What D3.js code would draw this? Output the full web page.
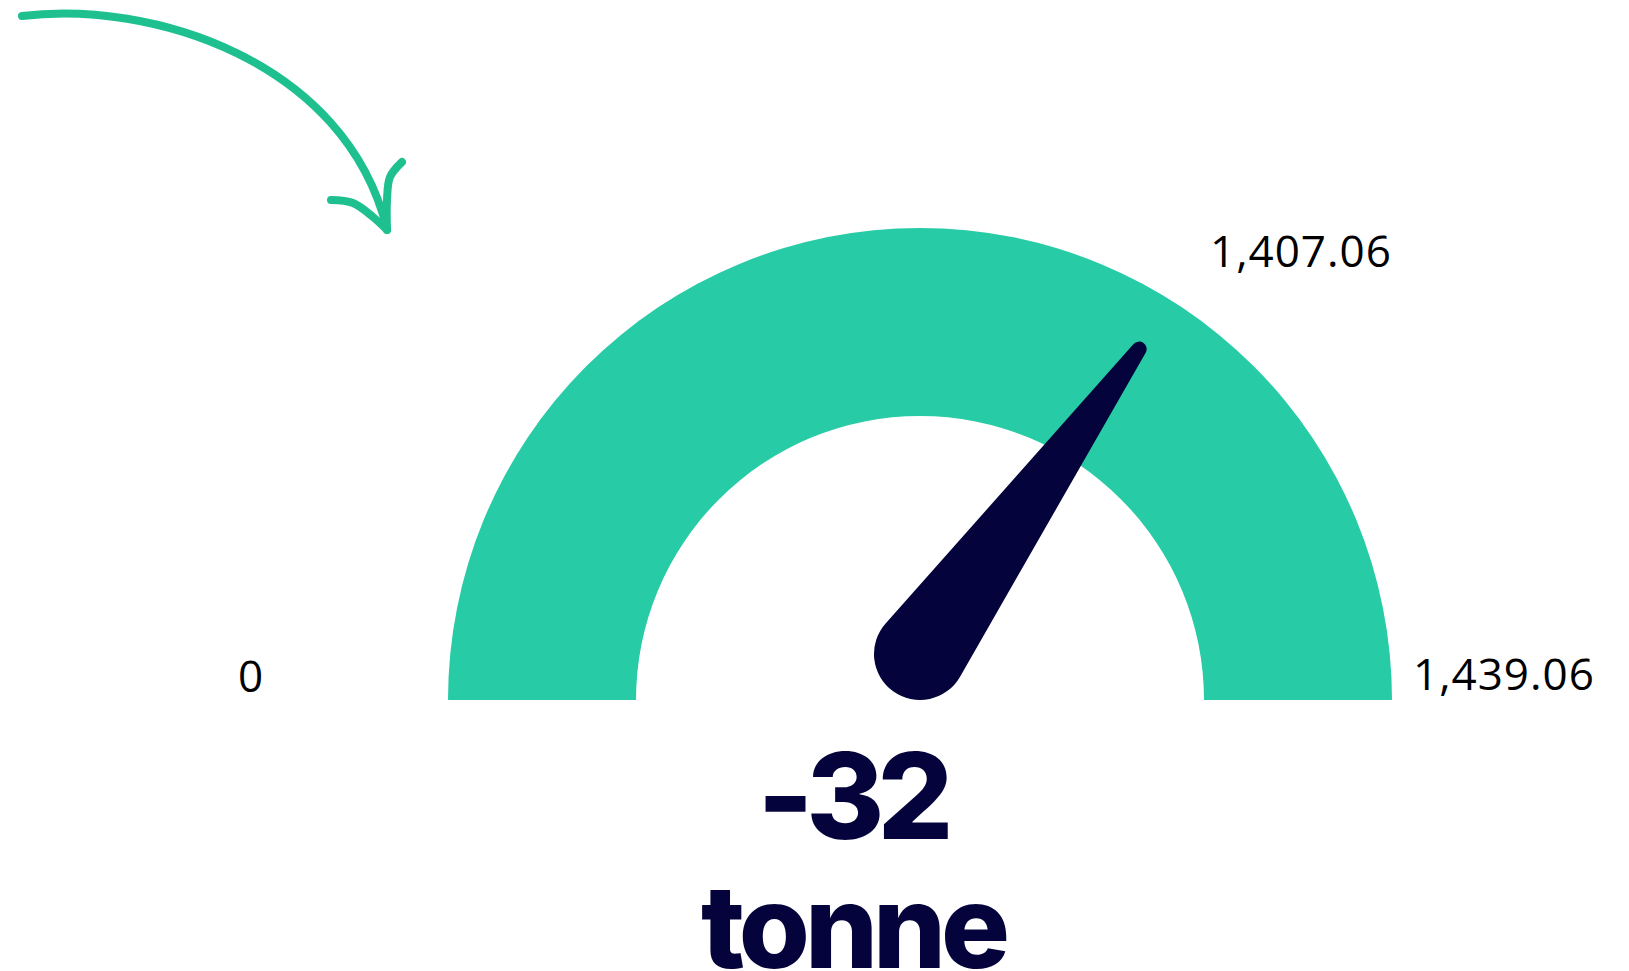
<!DOCTYPE html>
<html><head><meta charset="utf-8">
<script src="https://cdn.jsdelivr.net/npm/d3@7"></script>
<style>html,body{margin:0;padding:0;background:#fff;overflow:hidden}</style>
</head><body>
<svg id="c" width="1629" height="971"></svg>
<script>
// ---- data ----
const gaugeMin = 0;
const gaugeMax = 1439.06;
const targetValue = 1407.06;
const deltaValue = -32;
const unitLabel = "tonne";
const needleValue = 1005; // needle position
const tickLabels = ["0", "1,407.06", "1,439.06"];

// ---- layout ----
const svg = d3.select("#c");
const cx = 920, cy = 700, rOuter = 472, rInner = 284;
const teal = "#27cba6", navy = "#05033b", arrowCol = "#1fc08f";

const angle = d3.scaleLinear().domain([gaugeMin, gaugeMax]).range([-Math.PI / 2, Math.PI / 2]);

const g = svg.append("g").attr("transform", `translate(${cx},${cy})`);
g.append("path")
  .attr("d", d3.arc().innerRadius(rInner).outerRadius(rOuter)
    .startAngle(angle(gaugeMin)).endAngle(angle(gaugeMax))())
  .attr("fill", teal);

// needle
const pivot = [0, -46], r1 = 46, r2 = 7.5, L = 375.5;
const a = angle(needleValue); // 0 = up, clockwise
const phi = a - Math.PI / 2;  // screen angle
const tip = [pivot[0] + L * Math.cos(phi), pivot[1] + L * Math.sin(phi)];
const alpha = Math.acos((r1 - r2) / L);
const pt = (c, r, t) => [c[0] + r * Math.cos(t), c[1] + r * Math.sin(t)];
const A1 = pt(pivot, r1, phi + alpha), A2 = pt(tip, r2, phi + alpha);
const B2 = pt(tip, r2, phi - alpha), B1 = pt(pivot, r1, phi - alpha);
const needlePath = `M${A1}L${A2}A${r2},${r2} 0 0,0 ${B2}L${B1}A${r1},${r1} 0 1,0 ${A1}Z`;
g.append("path").attr("d", needlePath).attr("fill", navy);

// labels
const lab = svg.append("g").attr("font-family", "'Open Sans', 'Noto Sans', sans-serif")
  .attr("font-size", 44).attr("letter-spacing", 1).attr("fill", "#000");
lab.append("text").attr("x", cx - rOuter - 197).attr("y", 692).attr("text-anchor", "middle").text(tickLabels[0]);
lab.append("text").attr("x", cx + 290).attr("y", 267).text(tickLabels[1]);
lab.append("text").attr("x", cx + rOuter + 21).attr("y", 690).text(tickLabels[2]);

// big value + unit
const fmt = d3.formatLocale({decimal: ".", thousands: ",", grouping: [3], currency: ["", ""], minus: "-"}).format("d");
const big = svg.append("g").attr("font-family", "Inter, 'Noto Sans', sans-serif")
  .attr("font-weight", 800).attr("fill", navy).attr("text-anchor", "middle");
big.append("text").attr("x", 852).attr("y", 839).attr("font-size", 119)
  .attr("letter-spacing", -7).text(fmt(deltaValue));
big.append("text").attr("x", 853).attr("y", 968).attr("font-size", 115)
  .attr("letter-spacing", -5).text(unitLabel);

// decorative arrow
const p = d3.path();
p.moveTo(22, 16);
p.bezierCurveTo(150, 0, 345, 60, 387, 229);
const barbL = [[331,200],[353,203],[373,217],[387,230]];
const barbR = [[402,162],[390,177],[387,200],[387,230]];
const line = d3.line().curve(d3.curveCatmullRom);
const ar = svg.append("g").attr("fill", "none").attr("stroke", arrowCol)
  .attr("stroke-width", 8).attr("stroke-linecap", "round");
ar.append("path").attr("d", p.toString());
ar.append("path").attr("d", line(barbL));
ar.append("path").attr("d", line(barbR));
</script>
</body></html>
